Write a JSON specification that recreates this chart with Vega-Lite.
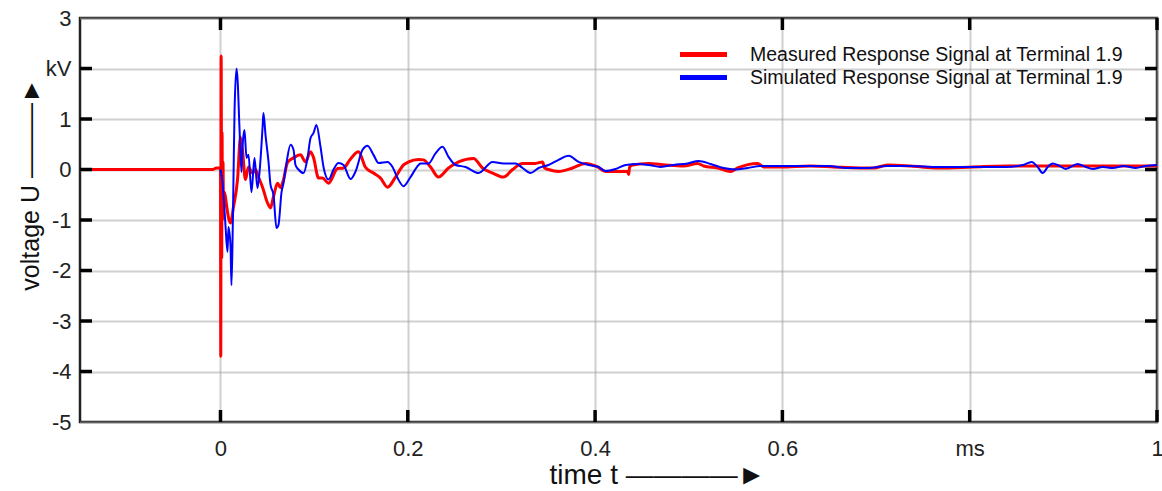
{
  "$schema": "https://vega.github.io/schema/vega-lite/v6.json",
  "autosize": {"type": "none"},
  "padding": {"left": 80, "top": 18, "right": 5, "bottom": 69},
  "width": 1077,
  "height": 404,
  "background": "white",
  "config": {
    "font": "Liberation Sans",
    "view": {"stroke": "#222", "strokeWidth": 2.5},
    "axis": {
      "domain": false,
      "ticks": false,
      "labelFont": "Liberation Sans",
      "labelFontSize": 22,
      "labelColor": "#222",
      "titleFont": "Liberation Sans",
      "titleFontSize": 25,
      "titleFontWeight": "normal",
      "titleColor": "#111",
      "gridColor": "#a0a0a0",
      "gridWidth": 2,
      "gridDash": [1, 1]
    }
  },
  "datasets": {
    "xt": [{"v": 0}, {"v": 0.2}, {"v": 0.4}, {"v": 0.6}, {"v": 0.8}, {"v": 1.0}],
    "yt": [{"v": -4}, {"v": -3}, {"v": -2}, {"v": -1}, {"v": 0}, {"v": 1}, {"v": 2}],
    "curves": [
      {"t": -0.15, "u": 0, "s": "M"},
      {"t": -0.0085, "u": 0, "s": "M"},
      {"t": -0.0043, "u": 0.03, "s": "M"},
      {"t": -0.0011, "u": 0.03, "s": "M"},
      {"t": 0.0, "u": 0, "s": "M"},
      {"t": 0.0003, "u": -3.7, "s": "M"},
      {"t": 0.0007, "u": 2.25, "s": "M"},
      {"t": 0.0013, "u": -1.75, "s": "M"},
      {"t": 0.0017, "u": 0.74, "s": "M"},
      {"t": 0.0021, "u": -1.0, "s": "M"},
      {"t": 0.0027, "u": 0.15, "s": "M"},
      {"t": 0.0032, "u": -0.8, "s": "M"},
      {"t": 0.0043, "u": -0.45, "s": "M"},
      {"t": 0.0064, "u": -0.7, "s": "M"},
      {"t": 0.0085, "u": -0.95, "s": "M"},
      {"t": 0.0107, "u": -1.06, "s": "M"},
      {"t": 0.0139, "u": -0.74, "s": "M"},
      {"t": 0.0182, "u": -0.2, "s": "M"},
      {"t": 0.0214, "u": 0.64, "s": "M"},
      {"t": 0.0235, "u": 0.38, "s": "M"},
      {"t": 0.0267, "u": -0.2, "s": "M"},
      {"t": 0.0299, "u": 0.05, "s": "M"},
      {"t": 0.0342, "u": -0.07, "s": "M"},
      {"t": 0.0374, "u": 0, "s": "M"},
      {"t": 0.0406, "u": -0.15, "s": "M"},
      {"t": 0.0449, "u": -0.35, "s": "M"},
      {"t": 0.0502, "u": -0.66, "s": "M"},
      {"t": 0.0534, "u": -0.76, "s": "M"},
      {"t": 0.0566, "u": -0.54, "s": "M"},
      {"t": 0.0609, "u": -0.27, "s": "M"},
      {"t": 0.0641, "u": -0.36, "s": "M"},
      {"t": 0.0673, "u": -0.2, "s": "M"},
      {"t": 0.0716, "u": 0.14, "s": "M"},
      {"t": 0.078, "u": 0.23, "s": "M"},
      {"t": 0.0854, "u": 0.29, "s": "M"},
      {"t": 0.0908, "u": 0.15, "s": "M"},
      {"t": 0.0961, "u": 0.35, "s": "M"},
      {"t": 0.0993, "u": 0.24, "s": "M"},
      {"t": 0.1047, "u": -0.17, "s": "M"},
      {"t": 0.1089, "u": -0.17, "s": "M"},
      {"t": 0.1154, "u": -0.27, "s": "M"},
      {"t": 0.125, "u": 0.02, "s": "M"},
      {"t": 0.1314, "u": 0.03, "s": "M"},
      {"t": 0.1389, "u": 0.21, "s": "M"},
      {"t": 0.1474, "u": 0.35, "s": "M"},
      {"t": 0.1549, "u": 0.04, "s": "M"},
      {"t": 0.1634, "u": -0.07, "s": "M"},
      {"t": 0.1709, "u": -0.17, "s": "M"},
      {"t": 0.1784, "u": -0.35, "s": "M"},
      {"t": 0.1869, "u": -0.15, "s": "M"},
      {"t": 0.1955, "u": 0.09, "s": "M"},
      {"t": 0.2008, "u": 0.15, "s": "M"},
      {"t": 0.2115, "u": 0.2, "s": "M"},
      {"t": 0.2168, "u": 0.19, "s": "M"},
      {"t": 0.2243, "u": 0.05, "s": "M"},
      {"t": 0.2328, "u": -0.15, "s": "M"},
      {"t": 0.2435, "u": 0.03, "s": "M"},
      {"t": 0.2542, "u": 0.15, "s": "M"},
      {"t": 0.2702, "u": 0.22, "s": "M"},
      {"t": 0.2798, "u": 0.03, "s": "M"},
      {"t": 0.2905, "u": -0.07, "s": "M"},
      {"t": 0.3023, "u": -0.15, "s": "M"},
      {"t": 0.3119, "u": 0, "s": "M"},
      {"t": 0.3226, "u": 0.12, "s": "M"},
      {"t": 0.3364, "u": 0.12, "s": "M"},
      {"t": 0.3439, "u": 0.15, "s": "M"},
      {"t": 0.3461, "u": 0.03, "s": "M"},
      {"t": 0.3503, "u": 0, "s": "M"},
      {"t": 0.361, "u": -0.04, "s": "M"},
      {"t": 0.376, "u": 0.03, "s": "M"},
      {"t": 0.3899, "u": 0.12, "s": "M"},
      {"t": 0.4027, "u": 0.05, "s": "M"},
      {"t": 0.4112, "u": -0.04, "s": "M"},
      {"t": 0.4219, "u": -0.04, "s": "M"},
      {"t": 0.4347, "u": -0.04, "s": "M"},
      {"t": 0.4358, "u": -0.1, "s": "M"},
      {"t": 0.4369, "u": 0.05, "s": "M"},
      {"t": 0.4401, "u": 0.09, "s": "M"},
      {"t": 0.4571, "u": 0.12, "s": "M"},
      {"t": 0.4753, "u": 0.09, "s": "M"},
      {"t": 0.4945, "u": 0.07, "s": "M"},
      {"t": 0.5095, "u": 0.12, "s": "M"},
      {"t": 0.5159, "u": 0.07, "s": "M"},
      {"t": 0.5308, "u": 0.03, "s": "M"},
      {"t": 0.5447, "u": -0.04, "s": "M"},
      {"t": 0.5522, "u": 0.03, "s": "M"},
      {"t": 0.5736, "u": 0.12, "s": "M"},
      {"t": 0.58, "u": 0.05, "s": "M"},
      {"t": 0.5981, "u": 0.05, "s": "M"},
      {"t": 0.6302, "u": 0.07, "s": "M"},
      {"t": 0.6547, "u": 0.05, "s": "M"},
      {"t": 0.6836, "u": 0.03, "s": "M"},
      {"t": 0.6975, "u": 0.03, "s": "M"},
      {"t": 0.7124, "u": 0.09, "s": "M"},
      {"t": 0.737, "u": 0.07, "s": "M"},
      {"t": 0.7669, "u": 0.03, "s": "M"},
      {"t": 0.8032, "u": 0.05, "s": "M"},
      {"t": 0.8385, "u": 0.07, "s": "M"},
      {"t": 0.8737, "u": 0.07, "s": "M"},
      {"t": 0.91, "u": 0.07, "s": "M"},
      {"t": 0.9453, "u": 0.07, "s": "M"},
      {"t": 0.9805, "u": 0.07, "s": "M"},
      {"t": 1.0, "u": 0.07, "s": "M"},
      {"t": 0.0, "u": 0, "s": "S"},
      {"t": 0.0005, "u": -0.05, "s": "S"},
      {"t": 0.0021, "u": -0.25, "s": "S"},
      {"t": 0.0032, "u": -0.5, "s": "S"},
      {"t": 0.0053, "u": -1.1, "s": "S"},
      {"t": 0.0075, "u": -1.63, "s": "S"},
      {"t": 0.0085, "u": -1.14, "s": "S"},
      {"t": 0.0107, "u": -1.5, "s": "S"},
      {"t": 0.0117, "u": -2.29, "s": "S"},
      {"t": 0.0128, "u": -1.5, "s": "S"},
      {"t": 0.0139, "u": -0.17, "s": "S"},
      {"t": 0.015, "u": 1.14, "s": "S"},
      {"t": 0.0171, "u": 2.0, "s": "S"},
      {"t": 0.0182, "u": 1.8, "s": "S"},
      {"t": 0.0203, "u": 0.82, "s": "S"},
      {"t": 0.0224, "u": -0.05, "s": "S"},
      {"t": 0.0235, "u": 0.43, "s": "S"},
      {"t": 0.0256, "u": 0.78, "s": "S"},
      {"t": 0.0278, "u": 0.23, "s": "S"},
      {"t": 0.0299, "u": 0.29, "s": "S"},
      {"t": 0.0331, "u": -0.45, "s": "S"},
      {"t": 0.0363, "u": 0.23, "s": "S"},
      {"t": 0.0395, "u": -0.37, "s": "S"},
      {"t": 0.0417, "u": -0.05, "s": "S"},
      {"t": 0.0449, "u": 0.82, "s": "S"},
      {"t": 0.0459, "u": 1.12, "s": "S"},
      {"t": 0.0481, "u": 0.68, "s": "S"},
      {"t": 0.0513, "u": 0.15, "s": "S"},
      {"t": 0.0534, "u": -0.3, "s": "S"},
      {"t": 0.0566, "u": -0.5, "s": "S"},
      {"t": 0.0598, "u": -1.16, "s": "S"},
      {"t": 0.0619, "u": -1.1, "s": "S"},
      {"t": 0.0652, "u": -0.45, "s": "S"},
      {"t": 0.0673, "u": -0.27, "s": "S"},
      {"t": 0.0705, "u": 0.13, "s": "S"},
      {"t": 0.0748, "u": 0.49, "s": "S"},
      {"t": 0.078, "u": 0.39, "s": "S"},
      {"t": 0.0801, "u": 0.09, "s": "S"},
      {"t": 0.0833, "u": 0, "s": "S"},
      {"t": 0.0887, "u": -0.07, "s": "S"},
      {"t": 0.0929, "u": 0.22, "s": "S"},
      {"t": 0.0961, "u": 0.62, "s": "S"},
      {"t": 0.0993, "u": 0.72, "s": "S"},
      {"t": 0.1025, "u": 0.88, "s": "S"},
      {"t": 0.1068, "u": 0.45, "s": "S"},
      {"t": 0.11, "u": 0.05, "s": "S"},
      {"t": 0.1154, "u": -0.2, "s": "S"},
      {"t": 0.1207, "u": 0, "s": "S"},
      {"t": 0.126, "u": 0.13, "s": "S"},
      {"t": 0.1314, "u": 0.09, "s": "S"},
      {"t": 0.1389, "u": -0.19, "s": "S"},
      {"t": 0.1442, "u": -0.04, "s": "S"},
      {"t": 0.1517, "u": 0.39, "s": "S"},
      {"t": 0.157, "u": 0.47, "s": "S"},
      {"t": 0.1634, "u": 0.29, "s": "S"},
      {"t": 0.1688, "u": 0.13, "s": "S"},
      {"t": 0.1784, "u": 0.15, "s": "S"},
      {"t": 0.1837, "u": 0.05, "s": "S"},
      {"t": 0.1891, "u": -0.17, "s": "S"},
      {"t": 0.1955, "u": -0.33, "s": "S"},
      {"t": 0.2029, "u": -0.15, "s": "S"},
      {"t": 0.2115, "u": 0.09, "s": "S"},
      {"t": 0.2136, "u": 0.12, "s": "S"},
      {"t": 0.2222, "u": 0.12, "s": "S"},
      {"t": 0.2296, "u": 0.32, "s": "S"},
      {"t": 0.2371, "u": 0.45, "s": "S"},
      {"t": 0.2435, "u": 0.25, "s": "S"},
      {"t": 0.251, "u": 0.09, "s": "S"},
      {"t": 0.2617, "u": 0.05, "s": "S"},
      {"t": 0.2756, "u": -0.07, "s": "S"},
      {"t": 0.2905, "u": 0.15, "s": "S"},
      {"t": 0.3023, "u": 0.12, "s": "S"},
      {"t": 0.3151, "u": 0.12, "s": "S"},
      {"t": 0.3226, "u": 0.03, "s": "S"},
      {"t": 0.3311, "u": -0.07, "s": "S"},
      {"t": 0.3397, "u": 0.03, "s": "S"},
      {"t": 0.3503, "u": 0.09, "s": "S"},
      {"t": 0.361, "u": 0.19, "s": "S"},
      {"t": 0.3717, "u": 0.27, "s": "S"},
      {"t": 0.3824, "u": 0.15, "s": "S"},
      {"t": 0.3931, "u": 0.09, "s": "S"},
      {"t": 0.4037, "u": 0.05, "s": "S"},
      {"t": 0.4112, "u": -0.03, "s": "S"},
      {"t": 0.4219, "u": 0.01, "s": "S"},
      {"t": 0.4326, "u": 0.09, "s": "S"},
      {"t": 0.4465, "u": 0.11, "s": "S"},
      {"t": 0.4571, "u": 0.09, "s": "S"},
      {"t": 0.47, "u": 0.05, "s": "S"},
      {"t": 0.4838, "u": 0.09, "s": "S"},
      {"t": 0.4988, "u": 0.12, "s": "S"},
      {"t": 0.5105, "u": 0.17, "s": "S"},
      {"t": 0.5234, "u": 0.11, "s": "S"},
      {"t": 0.5372, "u": 0.03, "s": "S"},
      {"t": 0.5501, "u": 0, "s": "S"},
      {"t": 0.5629, "u": 0.03, "s": "S"},
      {"t": 0.5768, "u": 0.07, "s": "S"},
      {"t": 0.5981, "u": 0.07, "s": "S"},
      {"t": 0.6302, "u": 0.07, "s": "S"},
      {"t": 0.6484, "u": 0.07, "s": "S"},
      {"t": 0.6697, "u": 0.03, "s": "S"},
      {"t": 0.6911, "u": 0.03, "s": "S"},
      {"t": 0.7124, "u": 0.07, "s": "S"},
      {"t": 0.737, "u": 0.07, "s": "S"},
      {"t": 0.7669, "u": 0.05, "s": "S"},
      {"t": 0.8032, "u": 0.05, "s": "S"},
      {"t": 0.8385, "u": 0.05, "s": "S"},
      {"t": 0.8566, "u": 0.09, "s": "S"},
      {"t": 0.8662, "u": 0.15, "s": "S"},
      {"t": 0.8726, "u": 0.05, "s": "S"},
      {"t": 0.878, "u": -0.07, "s": "S"},
      {"t": 0.8833, "u": 0.05, "s": "S"},
      {"t": 0.8887, "u": 0.12, "s": "S"},
      {"t": 0.8951, "u": 0.08, "s": "S"},
      {"t": 0.9025, "u": 0.01, "s": "S"},
      {"t": 0.9153, "u": 0.11, "s": "S"},
      {"t": 0.9239, "u": 0.05, "s": "S"},
      {"t": 0.9314, "u": 0.01, "s": "S"},
      {"t": 0.9421, "u": 0.05, "s": "S"},
      {"t": 0.9527, "u": 0.03, "s": "S"},
      {"t": 0.9645, "u": 0.07, "s": "S"},
      {"t": 0.9773, "u": 0.03, "s": "S"},
      {"t": 0.988, "u": 0.07, "s": "S"},
      {"t": 1.0, "u": 0.09, "s": "S"}
    ]
  },
  "layer": [
    {
      "data": {"name": "curves"},
      "transform": [{"filter": "datum.s == 'M'"}],
      "mark": {"type": "line", "strokeWidth": 3, "clip": true, "interpolate": "monotone"},
      "encoding": {
        "x": {
          "field": "t", "type": "quantitative",
          "scale": {"domain": [-0.15, 1.0], "nice": false, "zero": false},
          "axis": {
            "orient": "bottom",
            "values": [0, 0.2, 0.4, 0.6, 0.8, 1.0],
            "format": "~g",
            "labelExpr": "datum.value == 0.8 ? 'ms' : datum.label",
            "labelPadding": 16,
            "labelFlush": false,
            "grid": true,
            "title": "time t  ————►",
            "titleFontSize": 28,
            "titleX": 577,
            "titleY": 53,
            "titleBaseline": "middle",
            "titleAlign": "center"
          }
        },
        "y": {
          "field": "u", "type": "quantitative",
          "scale": {"domain": [-5, 3], "nice": false, "zero": false},
          "axis": {
            "orient": "left",
            "values": [-5, -4, -3, -2, -1, 0, 1, 2, 3],
            "labelExpr": "datum.value == 2 ? 'kV' : '' + datum.value",
            "labelPadding": 9,
            "labelFlush": false,
            "grid": true,
            "title": "voltage U  ———►",
            "titleAngle": -90,
            "titleX": -50,
            "titleY": 166,
            "titleAlign": "center",
            "titleBaseline": "middle"
          }
        },
        "color": {
          "field": "s", "type": "nominal",
          "scale": {"domain": ["M", "S"], "range": ["#ff0000", "#0000ff"]},
          "legend": {
            "orient": "none",
            "legendX": 611,
            "legendY": 24,
            "title": null,
            "padding": 0,
            "symbolType": "M-2.35,0H2.35",
            "symbolSize": 400,
            "symbolStrokeWidth": 5,
            "labelFont": "Liberation Sans",
            "labelFontSize": 19.5,
            "labelColor": "#111",
            "labelOffset": 34,
            "labelLimit": 600,
            "rowPadding": 0,
            "labelExpr": "datum.label == 'M' ? 'Measured Response Signal at Terminal 1.9' : 'Simulated Response Signal at Terminal 1.9'"
          }
        }
      }
    },
    {
      "data": {"name": "curves"},
      "transform": [{"filter": "datum.s == 'S'"}],
      "mark": {"type": "line", "strokeWidth": 2, "clip": true, "interpolate": "monotone"},
      "encoding": {
        "x": {"field": "t", "type": "quantitative", "scale": {"domain": [-0.15, 1.0], "nice": false, "zero": false}, "axis": null},
        "y": {"field": "u", "type": "quantitative", "scale": {"domain": [-5, 3], "nice": false, "zero": false}, "axis": null},
        "color": {
          "field": "s", "type": "nominal",
          "scale": {"domain": ["M", "S"], "range": ["#ff0000", "#0000ff"]}
        }
      }
    },
    {
      "data": {"name": "xt"},
      "mark": {"type": "rule", "color": "#000", "strokeWidth": 3.5},
      "encoding": {
        "x": {"field": "v", "type": "quantitative", "scale": {"domain": [-0.15, 1.0], "nice": false, "zero": false}, "axis": null},
        "y": {"datum": -5, "type": "quantitative", "scale": {"domain": [-5, 3], "nice": false, "zero": false}, "axis": null},
        "y2": {"datum": -4.762}
      }
    },
    {
      "data": {"name": "xt"},
      "mark": {"type": "rule", "color": "#000", "strokeWidth": 3.5},
      "encoding": {
        "x": {"field": "v", "type": "quantitative", "scale": {"domain": [-0.15, 1.0], "nice": false, "zero": false}, "axis": null},
        "y": {"datum": 3, "type": "quantitative", "scale": {"domain": [-5, 3], "nice": false, "zero": false}, "axis": null},
        "y2": {"datum": 2.762}
      }
    },
    {
      "data": {"name": "yt"},
      "mark": {"type": "rule", "color": "#000", "strokeWidth": 3.5},
      "encoding": {
        "y": {"field": "v", "type": "quantitative", "scale": {"domain": [-5, 3], "nice": false, "zero": false}, "axis": null},
        "x": {"datum": -0.15, "type": "quantitative", "scale": {"domain": [-0.15, 1.0], "nice": false, "zero": false}, "axis": null},
        "x2": {"datum": -0.1372}
      }
    },
    {
      "data": {"name": "yt"},
      "mark": {"type": "rule", "color": "#000", "strokeWidth": 3.5},
      "encoding": {
        "y": {"field": "v", "type": "quantitative", "scale": {"domain": [-5, 3], "nice": false, "zero": false}, "axis": null},
        "x": {"datum": 1.0, "type": "quantitative", "scale": {"domain": [-0.15, 1.0], "nice": false, "zero": false}, "axis": null},
        "x2": {"datum": 0.9872}
      }
    }
  ],
  "resolve": {"axis": {"x": "independent", "y": "independent"}}
}
